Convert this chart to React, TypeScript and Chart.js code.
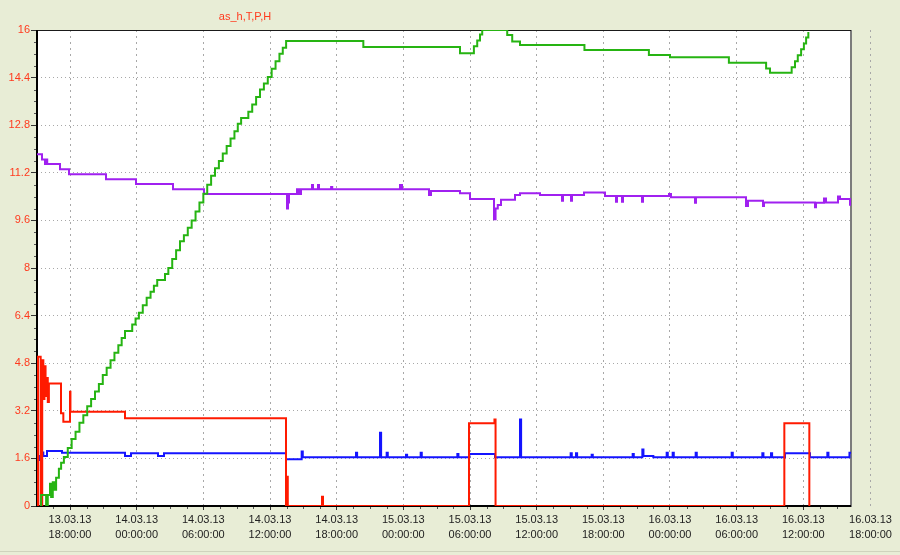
import React, { useEffect, useRef } from 'react';
import { Chart, registerables } from 'chart.js';

Chart.register(...registerables);

// ---- axis description ----
const chartTitle = 'as_h,T,P,H';
const xMin = 15.03; // hours since 13.03.13 00:00
const xMax = 88.29;
const xTickHours = [18, 24, 30, 36, 42, 48, 54, 60, 66, 72, 78, 84, 90];
const xTickDates = ['13.03.13', '14.03.13', '14.03.13', '14.03.13', '14.03.13', '15.03.13', '15.03.13', '15.03.13', '15.03.13', '16.03.13', '16.03.13', '16.03.13', '16.03.13'];
const xTickTimes = ['18:00:00', '00:00:00', '06:00:00', '12:00:00', '18:00:00', '00:00:00', '06:00:00', '12:00:00', '18:00:00', '00:00:00', '06:00:00', '12:00:00', '18:00:00'];
const yTicks = [0, 1.6, 3.2, 4.8, 6.4, 8, 9.6, 11.2, 12.8, 14.4, 16];
const yTickLabels = ['0', '1.6', '3.2', '4.8', '6.4', '8', '9.6', '11.2', '12.8', '14.4', '16'];

// ---- series: [hour, value] change points ----
const greenSeries: [number, number][] = [
  [15.3, 0], [15.4, 0.37], [15.85, 0], [16.0, 0.37], [16.2, 0.75], [16.3, 0.3], [16.45, 0.8], [16.6, 0.55],
  [16.75, 0.95], [17.0, 1.25], [17.2, 1.45], [17.45, 1.65], [17.8, 1.95], [18.15, 2.25], [18.5, 2.5],
  [18.85, 2.8], [19.2, 3.05], [19.55, 3.35], [19.9, 3.6], [20.25, 3.85], [20.6, 4.1], [20.95, 4.4],
  [21.3, 4.65], [21.65, 4.9], [22.0, 5.15], [22.35, 5.4], [22.65, 5.65], [22.95, 5.88], [23.6, 6.1],
  [23.9, 6.3], [24.2, 6.5], [24.55, 6.75], [24.9, 7.0], [25.25, 7.2], [25.55, 7.4], [25.85, 7.6],
  [26.55, 7.8], [26.85, 8.0], [27.2, 8.3], [27.55, 8.6], [27.9, 8.9], [28.25, 9.1], [28.6, 9.35],
  [28.95, 9.6], [29.3, 9.9], [29.65, 10.2], [30.0, 10.5], [30.35, 10.8], [30.7, 11.1], [31.05, 11.35],
  [31.4, 11.6], [31.75, 11.85], [32.1, 12.1], [32.45, 12.35], [32.8, 12.6], [33.1, 12.85], [33.4, 13.04],
  [34.05, 13.25], [34.4, 13.5], [34.75, 13.75], [35.1, 14.0], [35.45, 14.2], [35.8, 14.42], [36.15, 14.7],
  [36.5, 14.95], [36.85, 15.2], [37.15, 15.4], [37.45, 15.63], [44.4, 15.43], [53.1, 15.22], [54.35, 15.45],
  [54.65, 15.65], [54.9, 15.85], [55.1, 16], [57.35, 15.83], [57.8, 15.61], [58.5, 15.5], [64.3, 15.33],
  [70.1, 15.16], [72.0, 15.08], [77.3, 14.9], [80.65, 14.71], [81.0, 14.56], [82.95, 14.75], [83.25, 14.95],
  [83.5, 15.15], [83.8, 15.35], [84.05, 15.55], [84.25, 15.75], [84.45, 15.93],
];

const redSeries: [number, number][] = [
  [15.03, 0], [15.12, 5.02], [15.36, 0], [15.5, 4.9], [15.6, 3.6], [15.7, 4.7], [15.8, 3.7], [15.9, 4.3],
  [16.0, 3.5], [16.1, 4.12], [17.19, 3.12], [17.4, 2.83], [18.0, 3.84], [18.04, 3.17], [22.95, 2.95],
  [37.44, 0], [37.53, 0.98], [37.6, 0], [40.68, 0.31], [40.77, 0], [53.91, 2.78], [56.2, 2.91], [56.3, 0],
  [82.29, 2.78], [84.54, 0],
];

const blueSeries: [number, number][] = [
  [15.03, 1.68], [15.3, 1.55], [15.45, 1.8], [15.6, 1.68], [15.93, 1.85], [17.28, 1.79], [22.95, 1.68],
  [23.49, 1.77], [25.92, 1.68], [26.46, 1.77], [37.44, 1.57], [38.85, 1.83], [38.95, 1.64], [43.74, 1.79],
  [43.84, 1.64], [45.9, 2.46], [46.0, 1.64], [46.5, 1.79], [46.6, 1.64], [48.24, 1.72], [48.34, 1.64],
  [49.56, 1.79], [49.66, 1.64], [52.86, 1.75], [52.96, 1.64], [53.94, 1.75], [56.25, 1.64], [58.5, 2.91],
  [58.6, 1.64], [63.06, 1.77], [63.16, 1.64], [63.54, 1.77], [63.64, 1.64], [64.95, 1.72], [65.05, 1.64],
  [68.64, 1.75], [68.74, 1.64], [69.51, 1.9], [69.61, 1.68], [70.5, 1.64], [71.7, 1.79], [71.8, 1.64],
  [72.24, 1.79], [72.34, 1.64], [74.31, 1.79], [74.41, 1.64], [77.55, 1.79], [77.65, 1.64], [80.31, 1.77],
  [80.41, 1.64], [81.09, 1.77], [81.19, 1.64], [82.35, 1.77], [84.6, 1.64], [86.16, 1.79], [86.26, 1.64],
  [88.15, 1.79], [88.29, 1.79],
];

const purpleSeries: [number, number][] = [
  [15.03, 11.82], [15.48, 11.65], [15.75, 11.5], [15.85, 11.65], [15.95, 11.5], [17.1, 11.32], [17.91, 11.15],
  [21.24, 10.98], [23.94, 10.82], [27.27, 10.65], [30.06, 10.49], [37.53, 10.0], [37.62, 10.2], [37.71, 10.49],
  [38.43, 10.65], [38.61, 10.49], [38.79, 10.65], [39.78, 10.79], [39.87, 10.65], [40.32, 10.79], [40.41, 10.65],
  [41.5, 10.72], [41.6, 10.65], [47.7, 10.79], [47.88, 10.65], [50.31, 10.45], [50.49, 10.59], [53.1, 10.51],
  [54.0, 10.32], [56.16, 9.64], [56.3, 10.0], [56.5, 10.12], [56.79, 10.29], [58.05, 10.45], [58.5, 10.51],
  [60.3, 10.45], [62.28, 10.26], [62.37, 10.45], [63.09, 10.26], [63.18, 10.45], [64.26, 10.54], [66.15, 10.42],
  [67.14, 10.23], [67.23, 10.42], [67.68, 10.23], [67.77, 10.42], [69.48, 10.23], [69.57, 10.42], [71.91, 10.49],
  [72.09, 10.38], [74.25, 10.19], [74.34, 10.38], [78.84, 10.08], [79.02, 10.26], [80.37, 10.08], [80.46, 10.2],
  [85.05, 10.04], [85.14, 10.19], [85.86, 10.34], [86.04, 10.2], [87.12, 10.4], [87.3, 10.32], [88.2, 10.13],
  [88.29, 10.13],
];

const blackSeries: [number, number][] = [[15.03, 0], [87.6, 0]];

const FONT = 'Arial, "Liberation Sans", sans-serif';
const BG = '#e8edd6';
const RED_TEXT = '#ff3a1e';

const toXY = (s: [number, number][]) => s.map(([x, y]) => ({ x, y }));

const decorPlugin = {
  id: 'decor',
  beforeDraw(chart: any) {
    const { ctx, chartArea: a, width, height } = chart;
    ctx.save();
    ctx.fillStyle = BG;
    ctx.fillRect(0, 0, width, height);
    ctx.fillStyle = '#ffffff';
    ctx.fillRect(a.left, a.top, a.right - a.left, a.bottom - a.top);
    ctx.strokeStyle = '#cfd3bd';
    ctx.lineWidth = 1;
    ctx.beginPath();
    ctx.moveTo(0, height - 3.5);
    ctx.lineTo(width, height - 3.5);
    ctx.stroke();
    ctx.restore();
  },
  beforeDatasetsDraw(chart: any) {
    const { ctx, chartArea: a, scales } = chart;
    const xs = scales.x;
    const ys = scales.y;
    ctx.save();
    // extra ticks outside range (grid + label), placed like the library's own labels
    const ref = xs._labelItems && xs._labelItems.length ? xs._labelItems[0] : null;
    xTickHours.forEach((h, i) => {
      if (h >= xMin && h <= xMax) return;
      const px = Math.round(xs.getPixelForValue(h)) + 0.5;
      ctx.strokeStyle = '#a8a8a8';
      ctx.lineWidth = 1;
      ctx.setLineDash([2, 4]);
      ctx.beginPath();
      ctx.moveTo(px, a.top);
      ctx.lineTo(px, a.bottom);
      ctx.stroke();
      ctx.setLineDash([]);
      ctx.fillStyle = '#222';
      ctx.font = `11px ${FONT}`;
      ctx.textAlign = 'center';
      if (ref && ref.options) {
        ctx.textBaseline = ref.options.textBaseline || 'top';
        const y0 = ref.options.translation ? ref.options.translation[1] : a.bottom + 6;
        const off = ref.textOffset || 0;
        ctx.fillText(xTickDates[i], px, y0 + off);
        ctx.fillText(xTickTimes[i], px, y0 + off + 11 * 1.32);
      } else {
        ctx.textBaseline = 'middle';
        ctx.fillText(xTickDates[i], px, 517.5);
        ctx.fillText(xTickTimes[i], px, 532);
      }
    });
    // minor ticks
    ctx.strokeStyle = '#555';
    ctx.lineWidth = 1;
    for (let k = 0; k <= 40; k++) {
      if (k % 4 === 0) continue;
      const py = Math.round(ys.getPixelForValue(k * 0.4)) + 0.5;
      ctx.beginPath();
      ctx.moveTo(a.left - 3, py);
      ctx.lineTo(a.left, py);
      ctx.stroke();
    }
    for (let k = -4; k <= 60; k++) {
      if (k % 4 === 0) continue;
      const h = 18 + 1.5 * k;
      if (h < xMin || h > xMax) continue;
      const px = Math.round(xs.getPixelForValue(h)) + 0.5;
      ctx.beginPath();
      ctx.moveTo(px, a.bottom);
      ctx.lineTo(px, a.bottom + 3);
      ctx.stroke();
    }
    // frame
    ctx.strokeStyle = '#7c7c7c';
    ctx.lineWidth = 2;
    ctx.beginPath();
    ctx.moveTo(a.right, a.top);
    ctx.lineTo(a.right, a.bottom + 1);
    ctx.stroke();
    ctx.strokeStyle = '#1a1a1a';
    ctx.lineWidth = 1;
    ctx.beginPath();
    ctx.moveTo(a.left, a.top + 0.5);
    ctx.lineTo(a.right, a.top + 0.5);
    ctx.stroke();
    ctx.lineWidth = 2;
    ctx.strokeStyle = '#000';
    ctx.beginPath();
    ctx.moveTo(a.left, a.top);
    ctx.lineTo(a.left, a.bottom + 1);
    ctx.moveTo(a.left - 1, a.bottom);
    ctx.lineTo(a.right, a.bottom);
    ctx.stroke();
    // title
    ctx.fillStyle = RED_TEXT;
    ctx.font = `11px ${FONT}`;
    ctx.textAlign = 'center';
    ctx.textBaseline = 'middle';
    ctx.fillText(chartTitle, a.left + 208, 17);
    ctx.restore();
  },
};

export default function App() {
  const canvasRef = useRef<HTMLCanvasElement | null>(null);

  useEffect(() => {
    document.body.style.margin = '0';
    const canvas = canvasRef.current;
    if (!canvas) return;
    const line = (data: [number, number][], color: string) => ({
      data: toXY(data),
      borderColor: color,
      backgroundColor: color,
      borderWidth: 2,
      pointRadius: 0,
      stepped: true as const,
      fill: false,
    });
    const chart = new Chart(canvas, {
      type: 'line',
      data: {
        datasets: [
          line(greenSeries, '#26b412'),
          line(redSeries, '#ff1a00'),
          line(blueSeries, '#1414ff'),
          line(purpleSeries, '#a020f0'),
          line(blackSeries, '#000000'),
        ],
      },
      plugins: [decorPlugin],
      options: {
        animation: false,
        responsive: false,
        maintainAspectRatio: false,
        parsing: false,
        layout: { padding: { top: 30, right: 49, left: 0, bottom: 0 } },
        plugins: { legend: { display: false }, tooltip: { enabled: false }, title: { display: false } },
        scales: {
          x: {
            type: 'linear',
            min: xMin,
            max: xMax,
            afterBuildTicks: (scale: any) => {
              scale.ticks = xTickHours.filter((h) => h >= xMin && h <= xMax).map((h) => ({ value: h }));
            },
            afterFit: (scale: any) => {
              scale.height = 49;
            },
            ticks: {
              autoSkip: false,
              maxRotation: 0,
              padding: 3,
              color: '#222',
              font: { family: FONT, size: 11, lineHeight: 1.32 },
              callback: (value: any) => {
                const i = xTickHours.indexOf(Number(value));
                return i >= 0 ? [xTickDates[i], xTickTimes[i]] : '';
              },
            },
            grid: { color: '#a8a8a8', lineWidth: 1, drawTicks: true, tickLength: 4, tickColor: '#333', tickBorderDash: [] },
            border: { display: false, dash: [2, 4] },
          },
          y: {
            type: 'linear',
            min: 0,
            max: 16,
            afterBuildTicks: (scale: any) => {
              scale.ticks = yTicks.map((v) => ({ value: v }));
            },
            afterFit: (scale: any) => {
              scale.width = 37;
            },
            ticks: {
              padding: 1,
              color: RED_TEXT,
              font: { family: FONT, size: 11 },
              callback: (value: any) => {
                const i = yTicks.findIndex((v) => Math.abs(v - Number(value)) < 1e-6);
                return i >= 0 ? yTickLabels[i] : '';
              },
            },
            grid: { color: '#a8a8a8', lineWidth: 1, drawTicks: true, tickLength: 6, tickColor: '#333', tickBorderDash: [] },
            border: { display: false, dash: [1, 3] },
          },
        },
      },
    } as any);
    return () => chart.destroy();
  }, []);

  return (
    <div style={{ width: 900, height: 555 }}>
      <canvas ref={canvasRef} width={900} height={555} style={{ display: 'block', width: 900, height: 555 }} />
    </div>
  );
}
